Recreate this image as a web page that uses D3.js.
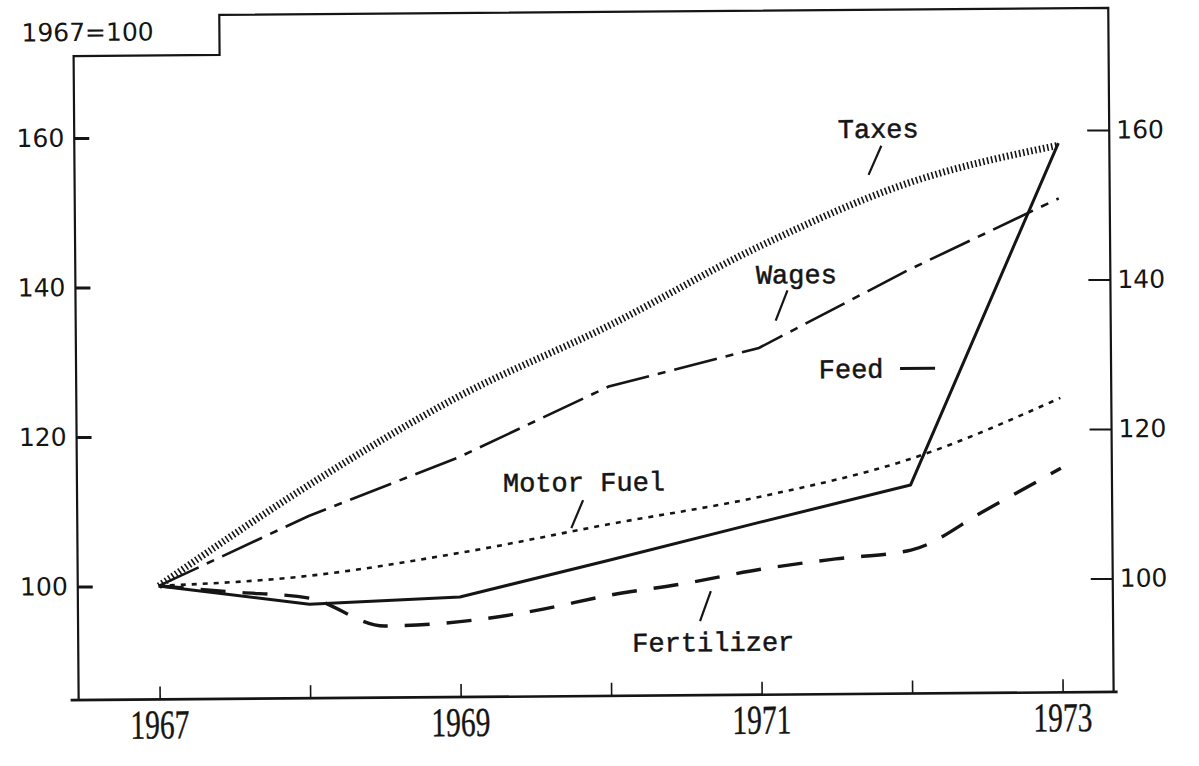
<!DOCTYPE html>
<html>
<head>
<meta charset="utf-8">
<script src="https://cdn.jsdelivr.net/npm/d3@7"></script>
<style>
  body { margin: 0; background: #fff; }
  svg { display: block; }
  .axis text { font-family: 'DejaVu Sans', sans-serif; font-size: 25px; fill: #151515; }
  .axis line { stroke: #151515; }
  .series-label { font-family: 'Liberation Mono', monospace; font-size: 27px; fill: #151515; stroke: #151515; stroke-width: 0.5; }
  .year-label { font-family: 'Liberation Serif', serif; font-size: 41px; fill: #151515; stroke: #151515; stroke-width: 0.4; }
</style>
</head>
<body>
<div id="chart"></div>
<script>
// index values, 1967=100
const years = [1967, 1968, 1969, 1970, 1971, 1972, 1973];
const feed = [100, 97.4, 98.2, 103.0, 107.9, 112.7, 158.3];
const motorFuel = [100, 101.2, 104.1, 107.8, 111.3, 116.2, 124.2];
const taxes = [100, 113.3, 125.0, 134.3, 144.7, 153.1, 158.0];
const wages = [100, 109.2, 116.9, 126.2, 131.2, 141.5, 150.9];
// fertilizer is plotted by half years
const halfYears = [1967, 1967.5, 1968, 1968.5, 1969, 1969.5, 1970, 1970.5, 1971, 1971.5, 1972, 1972.5, 1973];
const fertilizer = [100, 99.1, 98.2, 94.4, 94.9, 96.3, 98.3, 99.8, 101.6, 102.9, 104.0, 109.3, 114.8];

const yTicks = [100, 120, 140, 160];
const yearLabels = [1967, 1969, 1971, 1973];

const width = 1199, height = 766;
// frame of the chart (old scan, slightly rotated)
const frame = { left: 76, right: 1111, top: 12, bottom: 696, stepX: 222, stepY: 52 };

const svg = d3.select('#chart')
  .append('svg')
  .attr('width', width)
  .attr('height', height);

const g = svg.append('g')
  .attr('transform', 'rotate(-0.45, 593, 360)');

const x = d3.scaleLinear().domain([1967, 1973]).range([157, 1060]);
const y = d3.scaleLinear().domain([100, 160]).range([582.5, 134]);

// frame
g.append('path')
  .attr('d', `M${frame.left},${frame.bottom} L${frame.left},${frame.stepY} L${frame.stepX},${frame.stepY}
              L${frame.stepX},${frame.top} L${frame.right},${frame.top} L${frame.right},${frame.bottom}`)
  .attr('fill', 'none')
  .attr('stroke', '#151515')
  .attr('stroke-width', 2.2);

g.append('line')
  .attr('x1', frame.left - 8).attr('x2', frame.right + 4)
  .attr('y1', frame.bottom).attr('y2', frame.bottom)
  .attr('stroke', '#151515')
  .attr('stroke-width', 2.6);

// left axis
let leftAxis = g.append('g')
  .attr('class', 'axis')
  .attr('transform', `translate(${frame.left},0)`)
  .call(d3.axisLeft(y).tickValues(yTicks).tickSize(-15).tickPadding(10));
leftAxis.select('.domain').remove();
leftAxis.selectAll('line').attr('stroke-width', 3);

// right axis
let rightAxis = g.append('g')
  .attr('class', 'axis')
  .attr('transform', `translate(${frame.right},0)`)
  .call(d3.axisRight(y).tickValues(yTicks).tickSize(-22).tickPadding(7));
rightAxis.select('.domain').remove();
rightAxis.selectAll('line').attr('stroke-width', 2);

// bottom axis, tick each year, label every other
let bottomAxis = g.append('g')
  .attr('class', 'axis')
  .attr('transform', `translate(0,${frame.bottom})`)
  .call(d3.axisBottom(x).tickValues(years).tickSize(-13).tickFormat(''));
bottomAxis.select('.domain').remove();
bottomAxis.selectAll('line').attr('stroke-width', 1.6);

g.selectAll('text.year-label')
  .data(yearLabels)
  .enter()
  .append('text')
  .attr('class', 'year-label')
  .attr('text-anchor', 'middle')
  .attr('transform', d => `translate(${x(d)},${frame.bottom + 39}) scale(0.72,1)`)
  .text(d => d);

// base note
g.append('text')
  .attr('x', 24)
  .attr('y', 37)
  .style('font-family', "'DejaVu Sans', sans-serif")
  .style('font-size', '25px')
  .attr('fill', '#151515')
  .text('1967=100');

// series
function drawSeries(xs, values, curve, styles) {
  let lineGen = d3.line()
    .x((d, i) => x(xs[i]))
    .y(d => y(d))
    .curve(curve);
  let path = g.append('path')
    .datum(values)
    .attr('fill', 'none')
    .attr('stroke', '#151515')
    .attr('d', lineGen);
  Object.entries(styles).forEach(([k, v]) => path.attr(k, v));
}

drawSeries(years, taxes, d3.curveMonotoneX, { 'stroke-width': 7, 'stroke-dasharray': '1.6 2.5' });
drawSeries(years, wages, d3.curveLinear, { 'stroke-width': 2.6, 'stroke-dasharray': '44 9 8 9' });
drawSeries(years, motorFuel, d3.curveMonotoneX, { 'stroke-width': 2.6, 'stroke-dasharray': '5 6' });
drawSeries(halfYears, fertilizer, d3.curveMonotoneX, { 'stroke-width': 3.4, 'stroke-dasharray': '25 17' });
drawSeries(years, feed, d3.curveLinear, { 'stroke-width': 3, 'stroke-linejoin': 'round' });

// labels with pointers
const labels = [
  { text: 'Taxes', x: 880, y: 140, line: [883, 148, 870, 177] },
  { text: 'Wages', x: 797, y: 285, line: [788, 292, 776, 322] },
  { text: 'Feed', x: 851, y: 380, line: [900, 371, 935, 371] },
  { text: 'Motor Fuel', x: 583, y: 491, line: [582, 500, 570, 528] },
  { text: 'Fertilizer', x: 711, y: 652, line: [709, 592, 698, 622] }
];

labels.forEach(l => {
  g.append('text')
    .attr('class', 'series-label')
    .attr('x', l.x)
    .attr('y', l.y)
    .attr('text-anchor', 'middle')
    .text(l.text);
  g.append('line')
    .attr('x1', l.line[0]).attr('y1', l.line[1])
    .attr('x2', l.line[2]).attr('y2', l.line[3])
    .attr('stroke', '#151515')
    .attr('stroke-width', l.text === 'Feed' ? 3 : 2.2);
});
</script>
</body>
</html>
